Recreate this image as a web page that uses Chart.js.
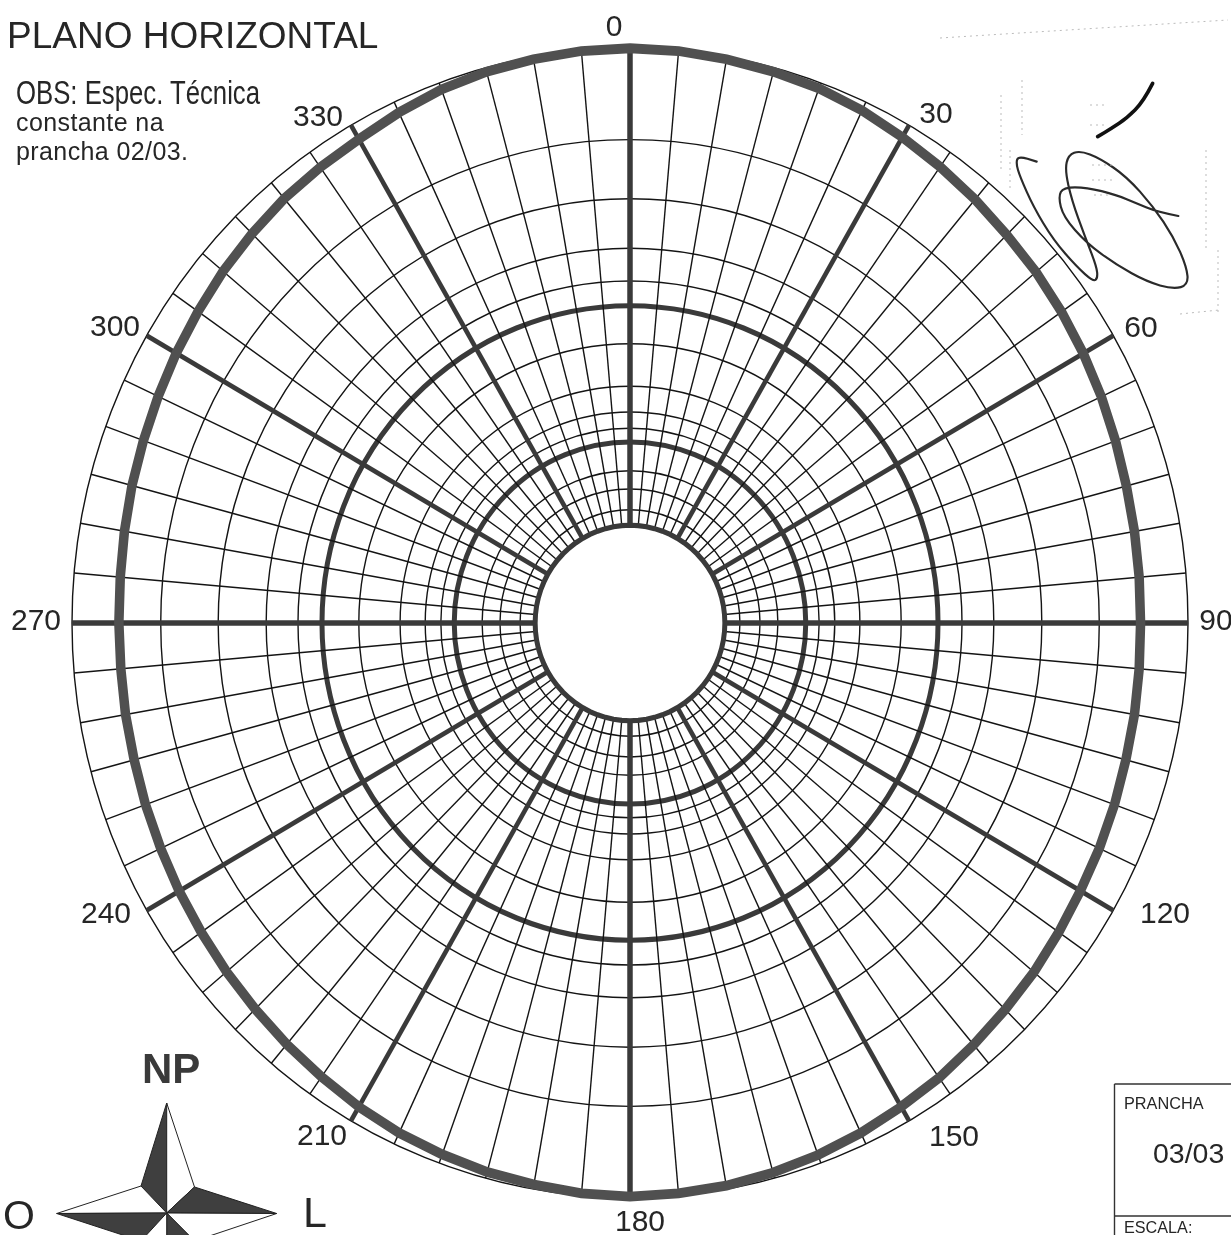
<!DOCTYPE html>
<html>
<head>
<meta charset="utf-8">
<title>Plano Horizontal</title>
<script src="https://cdn.jsdelivr.net/npm/chart.js@4"></script>
<style>
  html, body { margin: 0; padding: 0; background: #fff; width: 1231px; height: 1235px; overflow: hidden; }
  canvas, svg { position: absolute; left: 0; top: 0; display: block; }
  text { font-family: "Liberation Sans", Arial, sans-serif; fill: #262626; }
</style>
</head>
<body>
<canvas id="myChart" width="1231" height="1235"></canvas>
<svg id="notes" width="1231" height="1235" viewBox="0 0 1231 1235"></svg>
<script>
// angles of the spokes, one every 5 degrees
const angles = [0,5,10,15,20,25,30,35,40,45,50,55,60,65,70,75,80,85,90,95,100,105,110,115,120,125,130,135,140,145,150,155,160,165,170,175,
  180,185,190,195,200,205,210,215,220,225,230,235,240,245,250,255,260,265,270,275,280,285,290,295,300,305,310,315,320,325,330,335,340,345,350,355];
// radiation pattern (outer ring = 100)
const pattern = [100,99.9,99.6,99.3,99,98.4,97.6,96.9,96.2,95.5,95,94.4,93.8,93.2,92.6,92.1,91.8,91.6,91.5,91.6,91.8,92,92.4,92.8,93.2,93.8,94.5,95.1,95.8,96.6,97.2,97.9,98.5,99,99.4,99.6,
  99.8,99.6,99.2,98.9,98.4,97.9,97.2,96.4,95.7,95,94.4,93.8,93.3,92.8,92.4,92,91.8,91.6,91.6,91.7,92,92.4,92.8,93.3,93.9,94.5,95.2,95.8,96.4,96.8,97.2,98,98.8,99.3,99.6,99.9];
// rings of the polar grid, the last is the outer edge
const rings = [0,19.7,23.3,26.5,31.5,33.9,36.7,41.2,48.6,55.2,59.5,65.2,73.8,84.1,100];
const heavyRings = [31.5,55.2];
const innerRing = 17;
// numbers around the plot
const angleTicks = ['0','30','60','90','120','150','180','210','240','270','300','330'];
const angleTickX = [614,936,1141,1216,1165,954,640,322,106,36,115,318];
const angleTickY = [36,123,337,630,923,1146,1231,1145,923,630,336,126];

const thinColor = '#141414';
const heavyColor = '#3a3a3a';
const stretchY = 1.03; // the scanned sheet is a little taller than wide

// stretch the whole plot around its center
const stretchPlugin = {
  id: 'stretch',
  beforeDraw(chart) {
    const yc = chart.scales.r.yCenter;
    chart.ctx.save();
    chart.ctx.translate(0, yc);
    chart.ctx.scale(1, stretchY);
    chart.ctx.translate(0, -yc);
  },
  afterDraw(chart) {
    chart.ctx.restore();
  }
};

new Chart(document.getElementById('myChart'), {
  type: 'radar',
  data: {
    labels: angles,
    datasets: [
      {
        label: 'plano horizontal',
        data: pattern,
        borderColor: '#505050',
        borderWidth: 9.5,
        pointRadius: 0,
        fill: false,
        tension: 0,
        clip: false
      },
      {
        label: 'centro',
        data: angles.map(() => innerRing),
        borderColor: heavyColor,
        borderWidth: 5,
        backgroundColor: '#fff',
        pointRadius: 0,
        fill: 'origin',
        tension: 0,
        clip: false
      }
    ]
  },
  plugins: [stretchPlugin],
  options: {
    responsive: false,
    animation: false,
    events: [],
    layout: { padding: { left: 72, right: 43, top: 65, bottom: 54 } },
    plugins: {
      legend: { display: false },
      tooltip: { enabled: false }
    },
    scales: {
      r: {
        min: 0,
        max: 100,
        afterBuildTicks: scale => { scale.ticks = rings.map(v => ({ value: v })); },
        ticks: { display: false },
        pointLabels: { display: false },
        grid: {
          circular: true,
          color: ctx => heavyRings.includes(ctx.tick.value) ? heavyColor : thinColor,
          lineWidth: ctx => heavyRings.includes(ctx.tick.value) ? 5 : 1.4
        },
        angleLines: {
          color: ctx => ctx.index % 6 === 0 ? heavyColor : thinColor,
          lineWidth: ctx => ctx.index % 18 === 0 ? 5.5 : (ctx.index % 6 === 0 ? 4.5 : 1.4)
        }
      }
    }
  }
});

// texts and drawing marks on the sheet
const notes = document.getElementById('notes');
function add(tag, attrs, content) {
  const el = document.createElementNS('http://www.w3.org/2000/svg', tag);
  for (const k in attrs) el.setAttribute(k, attrs[k]);
  if (content !== undefined) el.textContent = content;
  notes.appendChild(el);
  return el;
}
function text(str, x, y, size, extra) {
  return add('text', Object.assign({ x: x, y: y, 'font-size': size }, extra || {}), str);
}

angleTicks.forEach((t, i) => text(t, angleTickX[i], angleTickY[i], 30, { 'text-anchor': 'middle' }));

text('PLANO HORIZONTAL', 7, 48, 37);
add('text', { transform: 'translate(16,104) scale(0.78,1)', 'font-size': 33 }, 'OBS: Espec. Técnica');
text('constante na', 16, 131, 25, { 'letter-spacing': 0.4 });
text('prancha 02/03.', 16, 160, 25, { 'letter-spacing': 0.4 });

text('NP', 142, 1083, 42, { 'font-weight': 'bold', style: 'fill:#3a3a3a' });
text('O', 3, 1229, 41);
text('L', 303, 1227, 43);

// compass star
const dark = '#3f3f3f';
const star = [
  ['166.7,1103 166.7,1213 141,1186', dark],
  ['166.7,1103 166.7,1213 194.5,1187', '#fff'],
  ['276.7,1213.5 166.7,1213 194.5,1187', dark],
  ['276.7,1213.5 166.7,1213 194.5,1241', '#fff'],
  ['166.7,1320 166.7,1213 194.5,1241', dark],
  ['56.7,1213.5 166.7,1213 141,1186', '#fff'],
  ['56.7,1213.5 166.7,1213 141,1241', dark],
  ['166.7,1320 166.7,1213 141,1241', '#fff']
];
star.forEach(s => add('polygon', { points: s[0], fill: s[1], stroke: '#222', 'stroke-width': 1, 'stroke-linejoin': 'round' }));

// PRANCHA box
add('path', { d: 'M1114.5 1084H1231M1114.5 1084V1235M1114.5 1216H1231', fill: 'none', stroke: '#333', 'stroke-width': 1.4 });
text('PRANCHA', 1124, 1109, 16.3);
text('03/03', 1153, 1163, 28.5);
text('ESCALA:', 1124, 1233, 16.2);

// signature, in 3x crop coordinates
const strokeA = [[668,70],[640,125],[590,175],[545,205],[503,230]];
const strokeB = [[745,468],[680,455],[620,430],[560,405],[470,382],[400,382],[385,410],[400,470],[470,550],[560,615],[650,665],[730,688],[775,675],[770,620],[730,530],[670,440],[590,350],[510,295],[450,272],[415,285],[405,330],[425,420],[465,530],[500,620],[503,655],[490,665],[440,620],[370,540],[310,440],[270,350],[258,310],[265,288],[320,305]];
function smooth(pts) {
  let d = 'M' + pts[0].join(' ');
  for (let i = 1; i < pts.length - 1; i++) {
    const mx = (pts[i][0] + pts[i + 1][0]) / 2, my = (pts[i][1] + pts[i + 1][1]) / 2;
    d += ' Q' + pts[i].join(' ') + ' ' + mx + ' ' + my;
  }
  return d + ' L' + pts[pts.length - 1].join(' ');
}
const sign = 'translate(930,60) scale(0.3333)';
add('path', { d: smooth(strokeA), transform: sign, fill: 'none', stroke: '#111', 'stroke-width': 11, 'stroke-linecap': 'round' });
add('path', { d: smooth(strokeB), transform: sign, fill: 'none', stroke: '#2a2a2a', 'stroke-width': 6.5, 'stroke-linecap': 'round' });

// faint stamp left over from the scan
const faint = ['M1001 95V170','M1022 80V135','M1010 150V190','M1206 150V250','M1218 250V312','M1180 314L1219 310','M940 38L1228 20','M1090 105H1108','M1090 125H1108','M1092 165H1112','M1092 180H1112','M1094 195H1110'];
faint.forEach(d => add('path', { d: d, fill: 'none', stroke: '#bbb', 'stroke-width': 1, 'stroke-dasharray': '2 4' }));
</script>
</body>
</html>
